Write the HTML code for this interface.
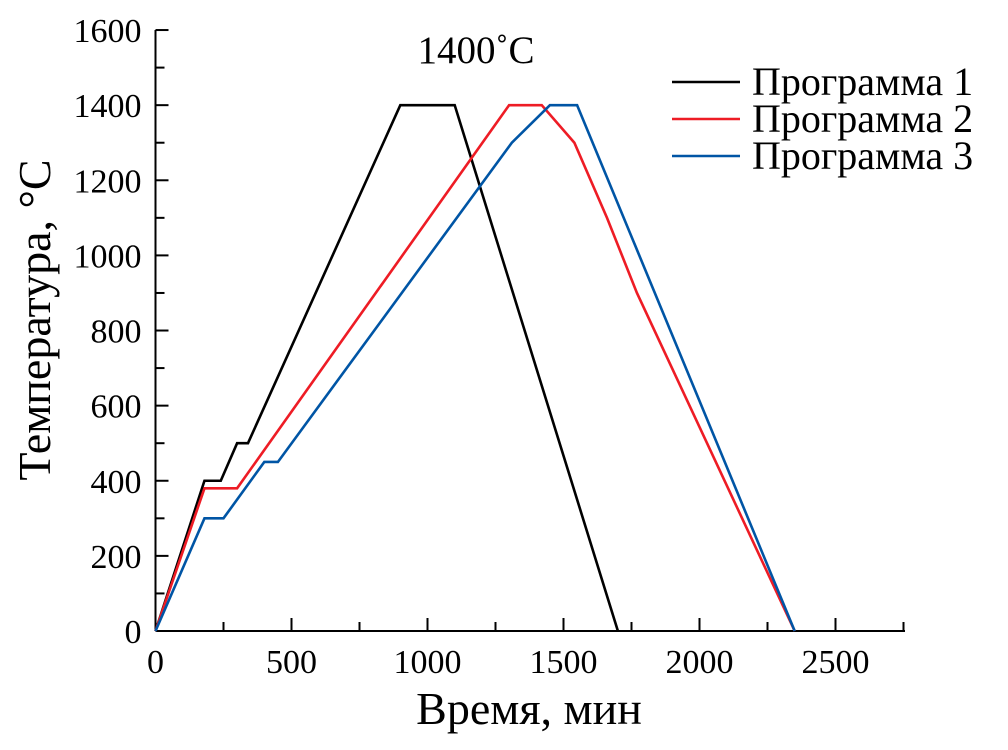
<!DOCTYPE html>
<html><head><meta charset="utf-8"><style>
html,body{margin:0;padding:0;background:#fff}
svg text{font-family:"Liberation Serif",serif;fill:#000}
</style></head><body>
<svg id="chart" width="1008" height="745" viewBox="0 0 1008 745" xmlns="http://www.w3.org/2000/svg">
<g id="axes"></g>
<g id="series"></g>
<text x="476" y="63" font-size="39" text-anchor="middle">1400˚C</text>
<text x="529" y="724" font-size="46" text-anchor="middle">Время, мин</text>
<text transform="translate(50,320) rotate(-90)" font-size="46" text-anchor="middle">Температура, °C</text>
<g id="legend"></g>
</svg>
<script>
const xTicks=[0,500,1000,1500,2000,2500];
const yTicks=[0,200,400,600,800,1000,1200,1400,1600];
const seriesNames=["Программа 1","Программа 2","Программа 3"];
const seriesColors=["#000000","#ee1c25","#0055a5"];
const s1t=[0,180,240,300,340,900,1100,1700];
const s1v=[0,400,400,500,500,1400,1400,0];
const s2t=[0,180,300,1300,1420,1540,1660,1770,2350];
const s2v=[0,380,380,1400,1400,1300,1100,900,0];
const s3t=[0,180,250,400,450,1310,1450,1550,2350];
const s3v=[0,300,300,450,450,1300,1400,1400,0];
const X0=155.5,XS=0.272,Y0=631,YS=0.3756;
const xp=t=>X0+t*XS, yp=v=>Y0-v*YS;
const NS="http://www.w3.org/2000/svg";
function mk(tag,attrs,parent){const e=document.createElementNS(NS,tag);for(const k in attrs)e.setAttribute(k,attrs[k]);parent.appendChild(e);return e;}
const ax=document.getElementById('axes');
let l=mk('line',{x1:X0,y1:Y0,x2:905,y2:Y0,stroke:'#000','stroke-width':2},ax);


l=mk('line',{x1:X0,y1:Y0,x2:X0,y2:yp(1600),stroke:'#000','stroke-width':2},ax);


for(let t=0;t<=2750;t+=250){const maj=t%500===0;const e=mk('line',{x1:xp(t),y1:Y0,x2:xp(t),y2:Y0-(maj?13:9),stroke:'#000','stroke-width':2},ax);

}
xTicks.forEach(t=>{const e=mk('text',{x:xp(t),y:Y0+42,'font-size':34,'text-anchor':'middle'},ax);e.textContent=t;

});
for(let v=0;v<=1600;v+=100){const maj=v%200===0;const e=mk('line',{x1:X0,y1:yp(v),x2:X0+(maj?13:9),y2:yp(v),stroke:'#000','stroke-width':2},ax);

}
yTicks.forEach(v=>{const e=mk('text',{x:X0-14,y:yp(v)+12,'font-size':34,'text-anchor':'end'},ax);e.textContent=v;

});
const sg=document.getElementById('series');
[[s1t,s1v],[s2t,s2v],[s3t,s3v]].forEach((s,i)=>{const pts=s[0].map((t,j)=>xp(t)+','+yp(s[1][j])).join(' ');
const p=mk('polyline',{points:pts,fill:'none',stroke:seriesColors[i],'stroke-width':2.6,'stroke-linejoin':'miter'},sg);

});
const lg=document.getElementById('legend');
seriesNames.forEach((n,i)=>{const y=82+i*37;
const ln=mk('line',{x1:672,y1:y,x2:740,y2:y,stroke:seriesColors[i],'stroke-width':2.6},lg);


const tx=mk('text',{x:752,y:y+13,'font-size':40},lg);tx.textContent=n;

});
</script>
</body></html>
